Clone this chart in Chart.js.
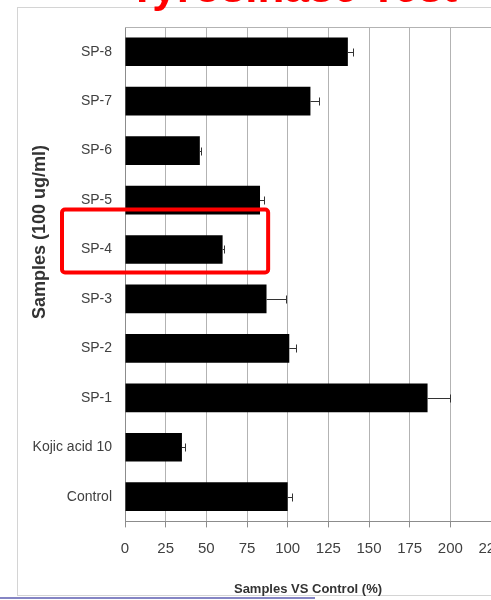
<!DOCTYPE html>
<html>
<head>
    <title>Tyrosinase Test</title>
    <style>
        body { margin: 0; background: #fff; overflow: hidden; }
        #chart { position: absolute; left: 0; top: 0; }
    </style>
</head>
<body>
    <canvas id="chart" width="530" height="600"></canvas>

    <script src="https://cdn.jsdelivr.net/npm/chart.js@4/dist/chart.umd.min.js"></script>
    <script>
        // data
        const categories = ['SP-8', 'SP-7', 'SP-6', 'SP-5', 'SP-4', 'SP-3', 'SP-2', 'SP-1', 'Kojic acid 10', 'Control'];
        const values = [137, 114, 46, 83, 60, 87, 101, 186, 35, 100];
        const errors = [3, 5, 1, 2.5, 1, 12, 4, 14, 2, 2.5];
        const xTickValues = [0, 25, 50, 75, 100, 125, 150, 175, 200, 225];
        const highlighted = 'SP-4';

        const FONT = "'Liberation Sans', Arial, sans-serif";

        const decor = {
            id: 'decor',
            beforeDraw(chart) {
                const ctx = chart.ctx;
                ctx.save();
                // outer chart frame
                ctx.strokeStyle = '#d4d4d4';
                ctx.lineWidth = 1;
                ctx.strokeRect(17.5, 7.5, 700, 588);
                // bluish line along the bottom
                ctx.fillStyle = '#8585c4';
                ctx.fillRect(0, 597, 315, 2);
                ctx.restore();
            },
            afterDatasetsDraw(chart) {
                const ctx = chart.ctx;
                const x = chart.scales.x, y = chart.scales.y;
                ctx.save();
                ctx.strokeStyle = '#333';
                ctx.lineWidth = 1;
                values.forEach((v, i) => {
                    const yc = Math.round(y.getPixelForValue(i)) + 0.5;
                    const x0 = x.getPixelForValue(v);
                    const x1 = Math.round(x.getPixelForValue(v + errors[i])) + 0.5;
                    ctx.beginPath();
                    ctx.moveTo(x0, yc);
                    ctx.lineTo(x1, yc);
                    ctx.moveTo(x1, yc - 4);
                    ctx.lineTo(x1, yc + 4);
                    ctx.stroke();
                });
                ctx.restore();
            },
            afterDraw(chart) {
                const ctx = chart.ctx;
                const area = chart.chartArea;
                const x = chart.scales.x, y = chart.scales.y;
                ctx.save();
                // plot area top edge
                ctx.strokeStyle = '#b3b3b3';
                ctx.lineWidth = 1;
                ctx.beginPath();
                ctx.moveTo(area.left, Math.round(area.top) + 0.5);
                ctx.lineTo(area.right, Math.round(area.top) + 0.5);
                ctx.stroke();

                // y axis title
                ctx.translate(40, 232);
                ctx.rotate(-Math.PI / 2);
                ctx.fillStyle = '#333';
                ctx.font = 'bold 18px ' + FONT;
                ctx.textAlign = 'center';
                ctx.textBaseline = 'middle';
                ctx.fillText('Samples (100 ug/ml)', 0, 0);
                ctx.setTransform(1, 0, 0, 1, 0, 0);

                // red title, mostly cut off by the top edge
                ctx.fillStyle = '#ff0000';
                ctx.font = 'bold 44px ' + FONT;
                ctx.textAlign = 'center';
                ctx.textBaseline = 'alphabetic';
                ctx.fillText('Tyrosinase Test', 293, 2);

                // red highlight box round SP-4
                const yc = y.getPixelForValue(categories.indexOf(highlighted));
                const left = 62, right = x.getPixelForValue(88);
                ctx.strokeStyle = '#ff0000';
                ctx.lineWidth = 4;
                ctx.beginPath();
                ctx.roundRect(left, yc - 40, right - left, 63, 3);
                ctx.stroke();
                ctx.restore();
            }
        };

        const chart = new Chart(document.getElementById('chart').getContext('2d'), {
            type: 'bar',
            data: {
                labels: categories,
                datasets: [{
                    data: values,
                    backgroundColor: '#000',
                    categoryPercentage: 1,
                    barPercentage: 0.58
                }]
            },
            options: {
                indexAxis: 'y',
                responsive: false,
                animation: false,
                devicePixelRatio: 1,
                layout: { padding: { left: 20, top: 27, right: 39, bottom: 0 } },
                plugins: {
                    legend: { display: false },
                    tooltip: { enabled: false }
                },
                scales: {
                    x: {
                        min: 0,
                        max: 225,
                        afterBuildTicks: (scale) => {
                            scale.ticks = xTickValues.map(v => ({ value: v }));
                        },
                        grid: { color: '#b3b3b3', tickLength: 6, tickColor: '#8c8c8c' },
                        border: { color: '#8c8c8c' },
                        ticks: { color: '#404040', padding: 12, font: { family: FONT, size: 15 } },
                        title: {
                            display: true,
                            text: 'Samples VS Control (%)',
                            color: '#333',
                            font: { family: FONT, size: 13, weight: 'bold' },
                            padding: { top: 12, bottom: 3 }
                        }
                    },
                    y: {
                        afterFit: (scale) => { scale.width = 105; },
                        grid: { display: false, drawTicks: false },
                        border: { color: '#8c8c8c' },
                        ticks: { color: '#404040', padding: 13, font: { family: FONT, size: 14 } }
                    }
                }
            },
            plugins: [decor]
        });
    </script>
</body>
</html>
